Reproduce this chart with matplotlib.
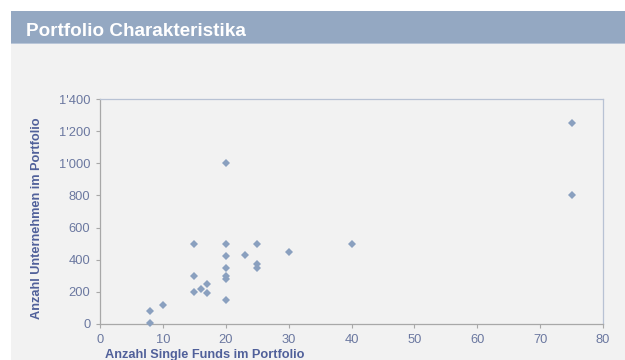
import matplotlib
matplotlib.use("Agg")
import matplotlib.pyplot as plt
from matplotlib.patches import Rectangle
from matplotlib.ticker import FuncFormatter, MultipleLocator

# Anzahl Single Funds vs. Anzahl Unternehmen je Portfolio
funds = [8, 8, 10, 15, 15, 15, 16, 17, 17, 20, 20, 20, 20, 20, 20, 20,
         23, 25, 25, 25, 30, 40, 75, 75]
companies = [5, 80, 120, 500, 300, 200, 220, 250, 190, 1000, 500, 425, 350,
             300, 280, 150, 430, 500, 375, 350, 450, 500, 1250, 800]

title = "Portfolio Charakteristika"
xlabel = "Anzahl Single Funds im Portfolio"
ylabel = "Anzahl Unternehmen im Portfolio"

W, H = 625, 360
bg = "#f2f2f2"
bar = "#94a8c2"
marker_col = "#8aa0bf"
tick_col = "#6b78a0"
label_col = "#50609a"

plt.rcParams["font.family"] = ["Liberation Sans", "DejaVu Sans"]

fig = plt.figure(figsize=(W / 100, H / 100), dpi=100)
fig.patch.set_facecolor("white")

# grauer Hintergrund und Titelbalken (hinter den Achsen)
fig.patches.append(Rectangle((11 / W, 0), 1, 1 - 44 / H, transform=fig.transFigure,
                             facecolor=bg, edgecolor="none", zorder=-3))
fig.patches.append(Rectangle((11 / W, 1 - 44 / H), 1, 33 / H, transform=fig.transFigure,
                             facecolor=bar, edgecolor="none", zorder=-3))
fig.patches.append(Rectangle((11 / W, 1 - 44 / H), 1, 1.2 / H, transform=fig.transFigure,
                             facecolor="#b9c6d8", edgecolor="none", zorder=-2))
fig.text(26 / W, 1 - 36 / H, title, color="white", fontsize=13.6,
         fontweight="bold", ha="left", va="baseline")

ax = fig.add_axes([100 / W, 1 - 324 / H, 503 / W, 225 / H])
ax.set_facecolor(bg)
ax.plot(funds, companies, linestyle="none", marker="D", ms=4,
        color=marker_col, mew=0, clip_on=False, zorder=3)

ax.set_xlim(0, 80)
ax.set_ylim(0, 1400)
ax.xaxis.set_major_locator(MultipleLocator(10))
ax.yaxis.set_major_locator(MultipleLocator(200))
ax.yaxis.set_major_formatter(FuncFormatter(lambda v, _: f"{int(v):,}".replace(",", "'")))

for side in ("left", "bottom"):
    ax.spines[side].set_color("#a8a8a8")
    ax.spines[side].set_linewidth(0.9)
for side in ("top", "right"):
    ax.spines[side].set_color("#b8c2d4")
    ax.spines[side].set_linewidth(0.9)

ax.tick_params(axis="both", direction="out", length=3, width=0.8,
               color="#a8a8a8", labelcolor=tick_col, labelsize=9.3, pad=4)

ax.set_xlabel(xlabel, color=label_col, fontsize=9.2, fontweight="bold", ha="left")
ax.xaxis.set_label_coords(5 / 503, -25 / 225)
ax.set_ylabel(ylabel, color=label_col, fontsize=9.2, fontweight="bold")
ax.yaxis.set_label_coords(-57 / 503, 0.47)

fig.savefig("out.png", dpi=100, facecolor=fig.get_facecolor())
